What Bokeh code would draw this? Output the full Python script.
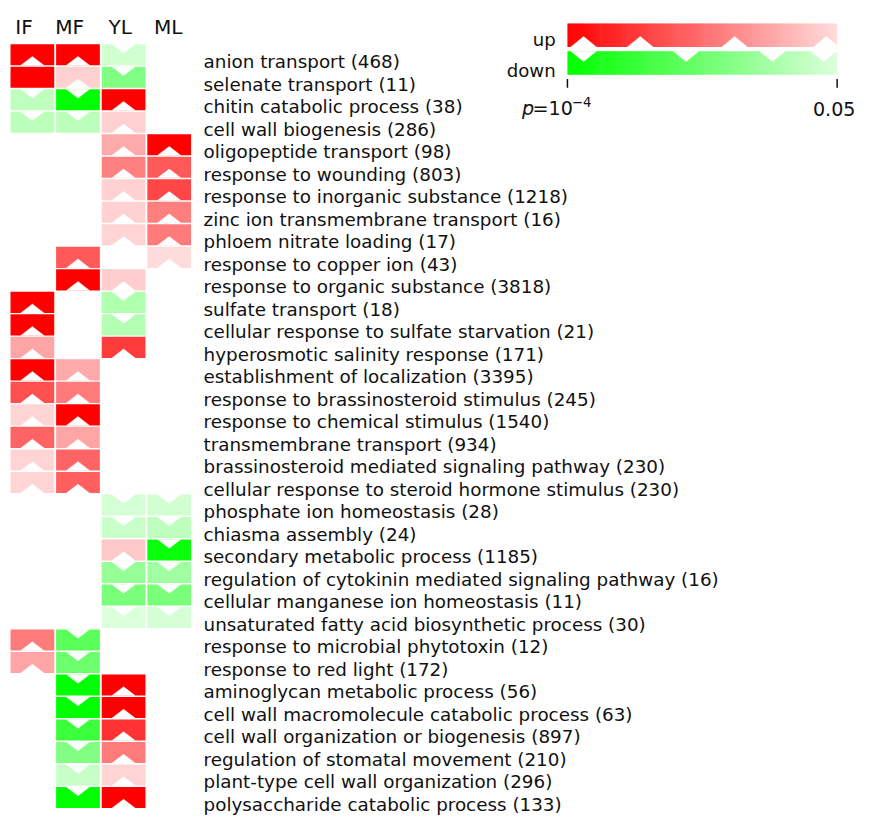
import math
from bokeh.plotting import figure
from bokeh.models import Range1d
from bokeh.embed import file_html
from bokeh.resources import INLINE
from bokeh.core.properties import value

# ---------------- data ----------------
columns = ["IF", "MF", "YL", "ML"]

terms = [
    "anion transport (468)",
    "selenate transport (11)",
    "chitin catabolic process (38)",
    "cell wall biogenesis (286)",
    "oligopeptide transport (98)",
    "response to wounding (803)",
    "response to inorganic substance (1218)",
    "zinc ion transmembrane transport (16)",
    "phloem nitrate loading (17)",
    "response to copper ion (43)",
    "response to organic substance (3818)",
    "sulfate transport (18)",
    "cellular response to sulfate starvation (21)",
    "hyperosmotic salinity response (171)",
    "establishment of localization (3395)",
    "response to brassinosteroid stimulus (245)",
    "response to chemical stimulus (1540)",
    "transmembrane transport (934)",
    "brassinosteroid mediated signaling pathway (230)",
    "cellular response to steroid hormone stimulus (230)",
    "phosphate ion homeostasis (28)",
    "chiasma assembly (24)",
    "secondary metabolic process (1185)",
    "regulation of cytokinin mediated signaling pathway (16)",
    "cellular manganese ion homeostasis (11)",
    "unsaturated fatty acid biosynthetic process (30)",
    "response to microbial phytotoxin (12)",
    "response to red light (172)",
    "aminoglycan metabolic process (56)",
    "cell wall macromolecule catabolic process (63)",
    "cell wall organization or biogenesis (897)",
    "regulation of stomatal movement (210)",
    "plant-type cell wall organization (296)",
    "polysaccharide catabolic process (133)",
]

# signed -log10(p): positive = up (red), negative = down (green), 0 = not enriched
IF = [4.0, 4.0, -1.67, -1.7, 0, 0, 0, 0, 0, 0, 0, 4.0, 4.0, 1.98, 4.0, 3.02, 1.4, 2.77, 1.4, 1.4,
      0, 0, 0, 0, 0, 0, 2.5, 1.98, 0, 0, 0, 0, 0, 0]
MF = [4.0, 1.45, -4.0, -1.7, 0, 0, 0, 0, 0, 2.9, 4.0, 0, 0, 0, 1.92, 2.5, 4.0, 1.98, 2.77, 2.83,
      0, 0, 0, 0, 0, 0, -2.9, -2.65, -4.0, -4.0, -3.27, -2.4, -1.55, -4.0]
YL = [-1.45, -2.4, 4.0, 1.45, 1.92, 2.43, 1.43, 1.43, 1.4, 0, 1.49, -1.85, -1.8, 3.27, 0, 0, 0, 0, 0, 0,
      -1.4, -1.54, 1.55, -2.16, -2.52, -1.3, 0, 0, 4.0, 4.0, 3.38, 2.5, 1.4, 4.0]
ML = [0, 0, 0, 0, 4.0, 2.9, 3.14, 2.46, 2.5, 1.3, 0, 0, 0, 0, 0, 0, 0, 0, 0, 0,
      -1.43, -1.67, -3.88, -2.04, -2.52, -1.36, 0, 0, 0, 0, 0, 0, 0, 0]
values = [IF, MF, YL, ML]

# cells drawn without the arrow notch
no_notch = [(1, 0)]  # (row, column)

p_strong, p_weak = 1e-4, 0.05
# legend notch marks, as fractions along the colour bar
legend_up_marks = [0.06, 0.27, 0.62, 0.96]
legend_down_marks = [0.06, 0.44, 0.76, 0.95]

# ---------------- layout ----------------
W, H = 859, 819
S = H / 835.0           # reference px -> screen px
X0, CW = 32.5, 46.5     # reference px of column-0 centre, column pitch
Y0, RH = 55.3, 22.95    # reference px of row-0 centre, row pitch


def ux(px):
    return (px - X0) / CW


def uy(px):
    return (px - Y0) / RH


def fs(px):
    return "%.2fpx" % (px * S)


FONT = "DejaVu Sans"
INK = "#111111"
s_hi = -math.log10(p_strong)
s_lo = -math.log10(p_weak)
LIGHT = 220


def frac(s):
    t = (s_hi - abs(s)) / (s_hi - s_lo)
    return min(max(t, 0.0), 1.0)


def col_up(t):
    g = int(round(LIGHT * t))
    return "#%02x%02x%02x" % (255, g, g)


def col_down(t):
    g = int(round(LIGHT * t))
    return "#%02x%02x%02x" % (g, 255, g)


p = figure(width=W, height=H, output_backend="svg", toolbar_location=None,
           x_range=Range1d(ux(0), ux(W / S)), y_range=Range1d(uy(H / S), uy(0)),
           x_axis_type=None, y_axis_type=None, min_border=0)
p.outline_line_color = None
p.background_fill_color = "white"
p.grid.visible = False

cw, ch = 44.6 / CW, 21.5 / RH
hh = ch / 2
nw, nh = 11.7 / CW, 9.0 / RH

xs, ys, colors = [], [], []
txs, tys = [], []
for ci, col in enumerate(values):
    for ri, s in enumerate(col):
        if s == 0:
            continue
        t = frac(s)
        xs.append(ci)
        ys.append(ri)
        colors.append(col_up(t) if s > 0 else col_down(t))
        if (ri, ci) in no_notch:
            continue
        txs.append([ci - nw, ci + nw, ci])
        if s > 0:
            tys.append([ri + hh, ri + hh, ri + hh - nh])
        else:
            tys.append([ri - hh, ri - hh, ri - hh + nh])

p.rect(x=xs, y=ys, width=cw, height=ch, fill_color=colors, line_color=None)
p.patches(txs, tys, fill_color="white", line_color="white", line_width=0.5)

# term labels
p.text(x=[ux(207)] * len(terms), y=[r + 7.0 / RH for r in range(len(terms))], text=terms,
       text_font=value(FONT), text_font_size=fs(18.7), text_align="left",
       text_baseline="alphabetic", text_color=INK)

# column headers
hdx = [-8.5, -8.5, -3.5, -1.0]
p.text(x=[i + hdx[i] / CW for i in range(len(columns))], y=[uy(27.5)] * len(columns),
       text=columns, text_font=value(FONT), text_font_size=fs(20.5), text_align="center",
       text_baseline="alphabetic", text_color=INK)

# ---------------- legend ----------------
LX0, LX1 = 578.0, 853.0
UP_T, UP_B = 23.5, 47.3
DN_T, DN_B = 51.7, 75.7
N = 140
dx = (LX1 - LX0) / N
lefts = [ux(LX0 + i * dx) for i in range(N)]
rights = [ux(LX0 + (i + 1) * dx + (0.6 if i < N - 1 else 0)) for i in range(N)]
tt = [(i + 0.5) / N for i in range(N)]
p.quad(left=lefts, right=rights, top=[uy(UP_T)] * N, bottom=[uy(UP_B)] * N,
       fill_color=[col_up(t) for t in tt], line_color=None)
p.quad(left=lefts, right=rights, top=[uy(DN_T)] * N, bottom=[uy(DN_B)] * N,
       fill_color=[col_down(t) for t in tt], line_color=None)

lhw, lh = 13.0, 10.5
lxs, lys = [], []
for f in legend_up_marks:
    cx = LX0 + f * (LX1 - LX0)
    lxs.append([ux(cx - lhw), ux(cx + lhw), ux(cx)])
    lys.append([uy(UP_B), uy(UP_B), uy(UP_B - lh)])
for f in legend_down_marks:
    cx = LX0 + f * (LX1 - LX0)
    lxs.append([ux(cx - lhw), ux(cx + lhw), ux(cx)])
    lys.append([uy(DN_T), uy(DN_T), uy(DN_T + lh)])
p.patches(lxs, lys, fill_color="white", line_color="white", line_width=0.5)

p.text(x=[ux(566), ux(566)], y=[uy(39.5), uy(71.5)], text=["up", "down"],
       text_font=value(FONT), text_font_size=fs(18.5), text_align="right",
       text_baseline="alphabetic", text_color=INK)

p.segment(x0=[ux(LX0), ux(LX1)], y0=[uy(80), uy(80)], x1=[ux(LX0), ux(LX1)], y1=[uy(89), uy(89)],
          line_color=INK, line_width=1.5)

p.text(x=[ux(544)], y=[uy(110.5)], text=["p"], text_font=value(FONT), text_font_size=fs(19.5),
       text_font_style="italic", text_align="right", text_baseline="alphabetic", text_color=INK)
p.text(x=[ux(542.5)], y=[uy(110.5)], text=["=10"], text_font=value(FONT), text_font_size=fs(19.5),
       text_align="left", text_baseline="alphabetic", text_color=INK)
p.text(x=[ux(582.5)], y=[uy(103.5)], text=["\u22124"], text_font=value(FONT), text_font_size=fs(13.5),
       text_align="left", text_baseline="alphabetic", text_color=INK)
p.text(x=[ux(850)], y=[uy(110.5)], text=["0.05"], text_font=value(FONT), text_font_size=fs(19.5),
       text_align="center", text_baseline="alphabetic", text_color=INK)

open("out.html", "w").write(file_html(p, INLINE))
